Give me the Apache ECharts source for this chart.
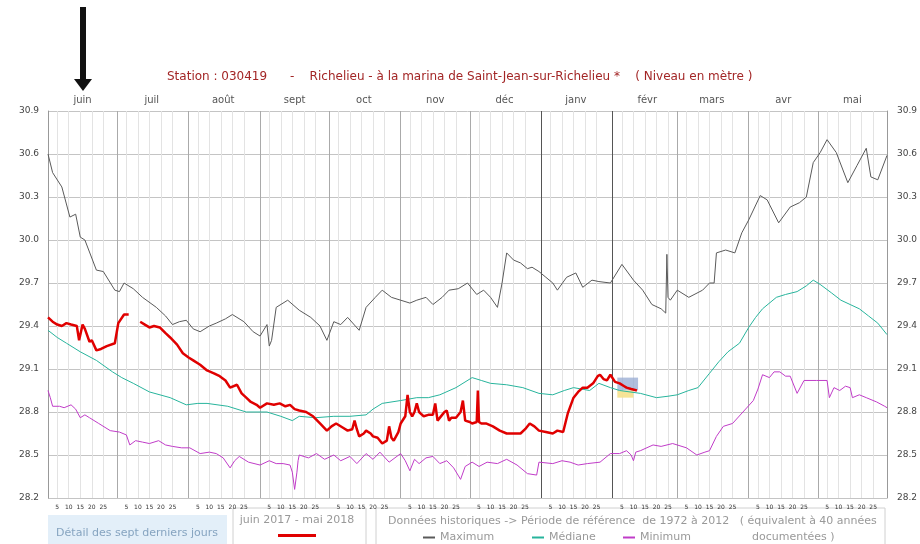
<!DOCTYPE html>
<html>
<head>
<meta charset="utf-8">
<script src="https://cdn.jsdelivr.net/npm/echarts@6/dist/echarts.min.js"></script>
<style>html,body{margin:0;padding:0;background:#fff}#chart{width:920px;height:544px}</style>
</head>
<body>
<div id="chart"></div>
<script>
// mois affichés en haut (juin 2017 -> mai 2018)
var monthNames = ['juin','juil','août','sept','oct','nov','déc','janv','févr','mars','avr','mai'];
var dayMarks = [5, 10, 15, 20, 25];
var yMin = 28.2, yMax = 30.9, yStep = 0.3;

// [jour depuis le 1er juin, niveau en m]
var maxData = [
  [0,30.6],[2,30.47],[6,30.37],[9.5,30.16],[12,30.18],[14,30.02],[16,30.0],[21,29.79],[24,29.78],[29,29.65],
  [31,29.64],[33,29.7],[37,29.66],[41,29.6],[47,29.53],[51,29.47],[54,29.41],[57,29.43],[60,29.44],[63,29.38],
  [66,29.36],[70,29.4],[73,29.42],[77,29.45],[80,29.48],[85,29.43],[89,29.36],[92,29.33],[95,29.41],[96,29.26],
  [97,29.3],[99,29.53],[104,29.58],[109,29.51],[114,29.46],[118,29.4],[121,29.3],[124,29.43],[127,29.41],[130,29.46],
  [135,29.37],[138,29.53],[142,29.6],[145,29.65],[149,29.6],[153,29.58],[157,29.56],[160,29.58],[164,29.6],[167,29.55],
  [171,29.6],[174,29.65],[178,29.66],[182,29.7],[186,29.62],[189,29.65],[192,29.6],[195,29.53],[197,29.7],[199,29.91],
  [202,29.86],[205,29.84],[208,29.8],[210,29.81],[213,29.78],[216,29.74],[219,29.7],[221,29.65],[225,29.74],[229,29.77],
  [232,29.67],[236,29.72],[239,29.71],[244,29.7],[249,29.83],[254,29.72],[258,29.65],[262,29.55],[266,29.52],[268,29.49],
  [268.5,29.9],[269,29.6],[270,29.58],[273,29.65],[278,29.6],[284,29.65],[287,29.7],[289,29.7],[290,29.91],[294,29.93],
  [298,29.91],[301,30.05],[304,30.14],[309,30.31],[312,30.28],[317,30.12],[322,30.23],[326,30.26],[329,30.3],[332,30.54],
  [335,30.61],[338,30.7],[342,30.61],[347,30.4],[351,30.52],[355,30.64],[357,30.44],[360,30.42],[364,30.59]
];
var medData = [
  [0,29.37],[4,29.32],[8,29.28],[14,29.22],[21,29.16],[28,29.08],[32,29.04],[37,29.0],[44,28.94],[53,28.9],
  [60,28.85],[65,28.86],[69,28.86],[78,28.84],[86,28.8],[95,28.8],[101,28.77],[106,28.74],[109,28.77],[116,28.76],
  [124,28.77],[131,28.77],[138,28.78],[141,28.82],[145,28.86],[153,28.88],[160,28.9],[165,28.9],[170,28.92],[177,28.97],
  [184,29.04],[188,29.02],[192,29.0],[199,28.99],[206,28.97],[213,28.93],[219,28.92],[224,28.95],[228,28.97],[235,28.95],
  [239,29.0],[244,28.97],[248,28.95],[257,28.93],[264,28.9],[269,28.91],[273,28.92],[278,28.95],[282,28.97],[287,29.07],
  [291,29.15],[295,29.22],[300,29.28],[304,29.39],[307,29.46],[310,29.52],[316,29.6],[320,29.62],[325,29.64],[329,29.68],
  [332,29.72],[335,29.69],[340,29.63],[344,29.58],[348,29.55],[352,29.52],[356,29.47],[360,29.42],[364,29.34]
];
var minData = [
  [0,28.95],[1,28.9],[2,28.84],[5,28.84],[7,28.83],[10,28.85],[12,28.82],[14,28.76],[16,28.78],[18,28.76],
  [22,28.72],[27,28.67],[31,28.66],[34,28.64],[35.5,28.57],[38,28.6],[41,28.59],[44,28.58],[48,28.6],[51,28.57],
  [54,28.56],[58,28.55],[61.5,28.55],[66,28.51],[70,28.52],[73,28.51],[76,28.48],[79,28.41],[81,28.46],[83,28.49],
  [87,28.45],[92,28.43],[96,28.46],[99,28.44],[102,28.44],[105,28.43],[106,28.38],[107,28.26],[108,28.38],[108.5,28.46],
  [109,28.5],[113,28.48],[116.5,28.51],[120,28.47],[124,28.5],[127,28.46],[131,28.49],[134,28.44],[138,28.51],[141,28.47],
  [144,28.52],[148,28.45],[153,28.51],[155,28.46],[157,28.39],[159,28.47],[161,28.44],[164,28.48],[167,28.49],[170,28.44],
  [173,28.46],[176,28.41],[179,28.33],[181,28.42],[184,28.45],[187,28.42],[190.5,28.45],[195,28.44],[199,28.47],[203.5,28.43],
  [208,28.37],[212,28.36],[213,28.45],[219,28.44],[223,28.46],[226.5,28.45],[230,28.43],[234,28.44],[239.5,28.45],[244,28.51],
  [248,28.51],[251,28.53],[253,28.5],[254,28.46],[255,28.52],[257,28.53],[262.5,28.57],[266,28.56],[271,28.58],[277,28.55],
  [281.5,28.5],[285,28.52],[287,28.53],[290,28.63],[293,28.7],[297,28.72],[301.5,28.8],[306,28.88],[308,28.96],[310,29.06],
  [313,29.04],[315,29.08],[317.5,29.08],[320,29.05],[322,29.05],[325,28.93],[328,29.02],[333.5,29.02],[338,29.02],[339,28.9],
  [341,28.97],[343.5,28.95],[346,28.98],[348,28.97],[349,28.9],[352,28.92],[355,28.9],[359.5,28.87],[363,28.84],[364,28.83]
];
var curData = [
  [0,29.46],[2,29.43],[4,29.41],[6,29.4],[8,29.42],[10,29.41],[12.5,29.4],[13.5,29.3],[14,29.29],[15,29.41],
  [16,29.38],[18,29.29],[19,29.3],[21,29.23],[23,29.24],[25.5,29.26],[29,29.28],[30.5,29.42],[33,29.48],[35,29.48],
  [37,'-'],
  [40,29.43],[42,29.41],[44,29.39],[46,29.4],[48.5,29.39],[51,29.35],[53,29.32],[56,29.27],[58.5,29.21],[61,29.18],
  [63,29.16],[66,29.13],[69,29.09],[72,29.07],[74.5,29.05],[77,29.02],[79,28.97],[82,28.99],[84,28.93],[86,28.9],
  [88,28.87],[90.5,28.85],[92,28.83],[95,28.86],[98,28.85],[100.5,28.86],[103,28.84],[105,28.85],[107,28.82],[109,28.81],
  [112,28.8],[115,28.77],[118,28.72],[121,28.67],[123,28.7],[125,28.72],[128,28.69],[130,28.67],[132,28.68],[133,28.74],
  [134,28.68],[135,28.63],[137,28.65],[138,28.67],[140,28.65],[141,28.63],[143,28.62],[145,28.58],[147,28.6],[148,28.7],
  [149,28.62],[150,28.6],[152,28.66],[153,28.72],[155,28.77],[156,28.92],[157,28.8],[158,28.77],[159,28.8],[160,28.86],
  [161,28.8],[163,28.77],[165,28.78],[167,28.78],[168,28.86],[169,28.74],[171,28.78],[172,28.8],[173,28.81],[174,28.74],
  [175,28.76],[177,28.76],[179,28.8],[180,28.88],[181,28.74],[183,28.73],[184,28.72],[186,28.73],[186.5,28.95],[187,28.73],
  [188,28.72],[190,28.72],[193,28.7],[196,28.67],[199,28.65],[202,28.65],[205,28.65],[207,28.68],[209,28.72],[211,28.7],
  [213,28.67],[216,28.66],[219,28.65],[221,28.67],[223.5,28.66],[225.5,28.79],[228,28.9],[230,28.94],[232,28.97],[234,28.97],
  [236.5,29.0],[238.5,29.05],[239.5,29.06],[241,29.03],[242.5,29.02],[244,29.06],[246,29.01],[248,29.0],[250,28.98],[251,28.97],
  [253,28.96],[255.5,28.95]
];

// jours de l'année hydrologique, pour la grille
var days = [];
for (var i = 0; i < 365; i++) {
  var d = new Date(2017, 5, 1 + i);
  days.push(d.getDate() + '/' + d.getMonth());
}
function dom(v) { return +v.split('/')[0]; }
function mon(v) { return +v.split('/')[1]; }

var monthLineColors = ['#aaa','#aaa','#aaa','#aaa','#aaa','#aaa','#aaa','#555','#555','#aaa','#aaa','#aaa'];
var font = 'DejaVu Sans';

var myChart = echarts.init(document.getElementById('chart'));
var option = {
  animation: false,
  textStyle: { fontFamily: font },
  title: {
    text: 'Station : 030419      -    Richelieu - à la marina de Saint-Jean-sur-Richelieu *    ( Niveau en mètre )',
    left: 162, top: 66,
    textStyle: { fontSize: 12, fontWeight: 'normal', color: '#a32626', fontFamily: font }
  },
  grid: { left: 48, right: 33, top: 111, bottom: 46, outerBoundsMode: 'none' },
  legend: [
    { data: ['juin 2017 - mai 2018'], left: 278, top: 534, padding: 0, icon: 'rect', itemWidth: 38, itemHeight: 3,
      formatter: function () { return ''; }, selectedMode: false },
    { data: ['Maximum'], left: 423, top: 532, padding: 0, icon: 'rect', itemWidth: 12, itemHeight: 2, selectedMode: false,
      textStyle: { fontSize: 11, color: '#999' } },
    { data: ['Médiane'], left: 532, top: 532, padding: 0, icon: 'rect', itemWidth: 12, itemHeight: 2, selectedMode: false,
      textStyle: { fontSize: 11, color: '#999' } },
    { data: ['Minimum'], left: 623, top: 532, padding: 0, icon: 'rect', itemWidth: 12, itemHeight: 2, selectedMode: false,
      textStyle: { fontSize: 11, color: '#999' } }
  ],
  xAxis: [
    {
      type: 'category', data: days, boundaryGap: false, position: 'bottom',
      axisLine: { show: false }, axisTick: { show: false },
      axisLabel: {
        interval: function (i, v) { return dayMarks.indexOf(dom(v)) >= 0; },
        formatter: function (v) { return dom(v); },
        fontSize: 6, color: '#333', margin: 6
      },
      splitLine: {
        show: true,
        interval: function (i, v) { return dayMarks.indexOf(dom(v)) >= 0; },
        lineStyle: { color: '#e3e3e3', width: 1 }
      }
    },
    {
      type: 'category', data: days, boundaryGap: false, position: 'top',
      axisLine: { show: false }, axisTick: { show: false },
      axisLabel: {
        interval: function (i, v) { return dom(v) === 16; },
        formatter: function (v) { return monthNames[(mon(v) + 7) % 12]; },
        fontSize: 10, color: '#555', margin: 6
      },
      splitLine: {
        show: true,
        interval: function (i, v) { return dom(v) === 1; },
        lineStyle: { color: monthLineColors, width: 1 }
      }
    },
    { type: 'value', min: 0, max: 364, show: false }
  ],
  yAxis: [
    {
      type: 'value', min: yMin, max: yMax, interval: yStep, position: 'left',
      axisLine: { show: true, lineStyle: { color: '#999' } }, axisTick: { show: false },
      axisLabel: { formatter: function (v) { return v.toFixed(1); }, fontSize: 9, color: '#444', margin: 9 },
      splitLine: { lineStyle: { color: '#c4c4c4' } }
    },
    {
      type: 'value', min: yMin, max: yMax, interval: yStep, position: 'right',
      axisLine: { show: true, lineStyle: { color: '#999' } }, axisTick: { show: false },
      axisLabel: { formatter: function (v) { return v.toFixed(1); }, fontSize: 9, color: '#444', margin: 10 },
      splitLine: { show: false }
    }
  ],
  series: [
    { name: 'Maximum', type: 'line', xAxisIndex: 2, yAxisIndex: 0, data: maxData, symbol: 'none',
      lineStyle: { color: '#5a5a5a', width: 1 }, itemStyle: { color: '#5a5a5a' } },
    { name: 'Médiane', type: 'line', xAxisIndex: 2, yAxisIndex: 0, data: medData, symbol: 'none',
      lineStyle: { color: '#27b49c', width: 1 }, itemStyle: { color: '#27b49c' } },
    { name: 'Minimum', type: 'line', xAxisIndex: 2, yAxisIndex: 0, data: minData, symbol: 'none',
      lineStyle: { color: '#c03cc8', width: 1 }, itemStyle: { color: '#c03cc8' } },
    { name: 'juin 2017 - mai 2018', type: 'line', xAxisIndex: 2, yAxisIndex: 0, data: curData, symbol: 'none',
      lineStyle: { color: '#e00000', width: 2.5 }, itemStyle: { color: '#e00000' },
      markArea: {
        silent: true,
        data: [
          [{ xAxis: 247, yAxis: 29.04, itemStyle: { color: 'rgba(150,170,210,0.75)' } }, { xAxis: 256, yAxis: 28.95 }],
          [{ xAxis: 247, yAxis: 28.95, itemStyle: { color: 'rgba(245,225,140,0.9)' } }, { xAxis: 254, yAxis: 28.9 }]
        ]
      }
    }
  ],
  graphic: [
    { type: 'rect', shape: { x: 80, y: 7, width: 6, height: 74 }, style: { fill: '#111' } },
    { type: 'polygon', shape: { points: [[74, 79], [92, 79], [83, 91]] }, style: { fill: '#111' } },
    { type: 'rect', shape: { x: 48, y: 515, width: 179, height: 40 }, style: { fill: '#e3eff9' } },
    { type: 'text', x: 137, y: 533, style: { text: 'Détail des sept derniers jours', fill: '#86a4c0',
      fontSize: 11, fontFamily: font, align: 'center', verticalAlign: 'middle' } },
    { type: 'rect', shape: { x: 233, y: 508, width: 133, height: 40 }, style: { fill: 'none', stroke: '#d0d0d0' } },
    { type: 'text', x: 297, y: 520, style: { text: 'juin 2017 - mai 2018', fill: '#999',
      fontSize: 11, fontFamily: font, align: 'center', verticalAlign: 'middle' } },
    { type: 'rect', shape: { x: 376, y: 508, width: 509, height: 40 }, style: { fill: 'none', stroke: '#d0d0d0' } },
    { type: 'text', x: 388, y: 521, style: { text: 'Données historiques -> Période de référence  de 1972 à 2012   ( équivalent à 40 années',
      fill: '#999', fontSize: 11, fontFamily: font, verticalAlign: 'middle' } },
    { type: 'text', x: 752, y: 537, style: { text: 'documentées )', fill: '#999',
      fontSize: 11, fontFamily: font, verticalAlign: 'middle' } }
  ]
};
myChart.setOption(option);
</script>
</body>
</html>
